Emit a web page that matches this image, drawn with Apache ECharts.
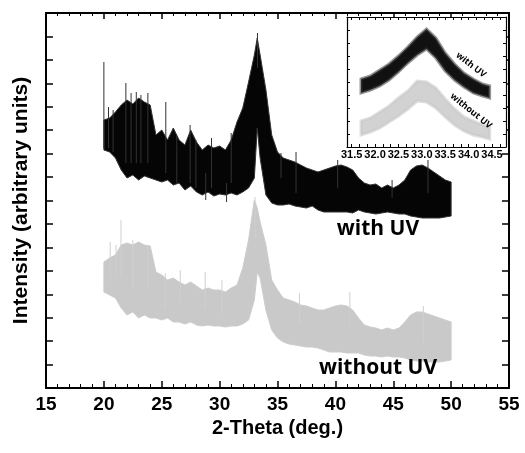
<!DOCTYPE html>
<html><head><meta charset="utf-8">
<script src="https://cdn.jsdelivr.net/npm/echarts@6/dist/echarts.min.js"></script>
<style>html,body{margin:0;padding:0;background:#fff}#c{width:525px;height:453px}</style>
</head><body><div id="c"></div>
<script>
// ---- main plot data (2-Theta in degrees, intensity in arbitrary units; band = low/high envelope of the noisy trace)
const mainX = [20,20.5,21,21.5,22,22.5,23,23.5,24,24.5,25,25.5,26,26.5,27,27.5,28,28.5,29,29.5,30,30.5,31,31.5,32,32.5,33,33.25,33.5,34,34.5,35,35.5,36,36.5,37,37.5,38,38.5,39,39.5,40,40.5,41,41.5,42,42.5,43,43.5,44,44.5,45,45.5,46,46.5,47,47.5,48,48.5,49,49.5,50];
const withUVHigh = [268,270,276,283,288,284,290,286,283,253,258,248,260,248,243,258,246,238,243,240,242,238,248,266,280,306,333,350,333,298,253,236,230,228,226,223,220,218,216,218,220,222,223,221,218,210,205,203,204,200,203,200,203,208,218,222,223,220,216,212,208,206];
const withUVLow  = [238,236,230,218,210,213,208,212,210,208,206,208,203,205,198,202,196,193,196,192,194,193,195,193,196,200,210,260,230,193,185,183,183,184,182,181,180,182,178,176,176,176,176,176,175,178,176,175,174,175,176,175,174,174,172,171,170,170,170,170,171,172];
const withoutUVHigh = [126,130,133,143,145,143,146,143,142,116,113,108,110,106,103,106,102,98,100,98,98,96,100,103,120,148,188,180,166,143,108,98,90,88,86,83,82,80,78,78,80,82,83,82,78,70,63,61,60,58,60,58,60,66,73,76,76,74,72,70,68,66];
const withoutUVLow  = [96,93,90,80,73,76,70,73,70,70,68,70,66,66,64,66,63,62,63,62,62,61,62,62,64,68,88,116,110,78,58,50,46,44,43,42,41,41,40,38,36,36,36,35,35,35,33,32,32,31,32,31,31,30,28,27,27,26,26,26,27,28];
// isolated noise spikes [2-Theta, from, to]
const withUVSpikes = [[20.0,240,326],[20.4,240,281],[20.8,236,278],[21.9,225,305],[22.35,225,295],[22.8,225,296],[23.2,225,293],[23.8,225,295],[25.35,215,286],[27.45,205,263],[27.95,200,248],[33.27,320,355],[35.3,210,235],[44.9,190,208],[28.8,188,215],[30.6,186,205],[26.3,205,252],[29.3,200,250],[31.0,205,255],[36.6,195,236],[40.2,200,228],[48.0,195,228]];
const withoutUVSpikes = [[20.55,110,146],[21.05,110,143],[21.48,110,168],[22.5,100,148],[23.8,100,143],[26.6,85,118],[28.75,80,116],[33.05,150,191],[36.9,65,95],[41.25,60,96],[25.3,80,115],[30.2,75,108],[47.6,45,82]];
// ---- inset data
const insetX = [31.7,31.9,32.1,32.3,32.5,32.7,32.9,33.1,33.3,33.5,33.7,33.9,34.1,34.3,34.45];
const insetWithHigh = [68,71,77,83,91,100,110,118,109,94,83,74,68,63,61];
const insetWithLow  = [54,57,61,67,75,84,92,98,89,76,67,60,54,51,49];
const insetWithoutHigh = [26,29,35,41,49,56,66,65,59,48,38,30,26,22,20];
const insetWithoutLow  = [12,15,19,25,31,38,46,45,39,30,22,16,12,10,8];
const mainTicksX = [15,20,25,30,35,40,45,50,55];
const insetLabels = [31.5,32.0,32.5,33.0,33.5,34.0,34.5];

function bandSeries(xi, yi, xs, lo, hi, color, stroke, lw, z){
  return {type:'custom', xAxisIndex:xi, yAxisIndex:yi, clip:true, silent:true, z:z||2,
    data: xs.map(function(x,i){ return [x, lo[i], hi[i]]; }), encode:{x:0, y:[1,2]},
    renderItem:function(p, api){
      if (p.dataIndex !== 0) return null;
      const top = [], bot = [];
      for (let i=0;i<xs.length;i++){ top.push(api.coord([xs[i], hi[i]])); bot.push(api.coord([xs[i], lo[i]])); }
      const pts = top.concat(bot.reverse());
      return {type:'polygon', shape:{points:pts}, style:{fill:color, stroke:stroke, lineWidth:lw, lineJoin:'miter'}};
    }};
}
function spikeSeries(xi, yi, spikes, color){
  return {type:'custom', xAxisIndex:xi, yAxisIndex:yi, clip:true, silent:true, z:3,
    data: spikes, encode:{x:0, y:[1,2]},
    renderItem:function(p, api){
      const a=api.coord([api.value(0),api.value(1)]), b=api.coord([api.value(0),api.value(2)]);
      return {type:'line', shape:{x1:a[0],y1:a[1],x2:b[0],y2:b[1]}, style:{stroke:color, lineWidth:1}};
    }};
}
const insetTickVals = []; for (let k=0;k<20;k++) insetTickVals.push(31.5 + k*0.5/3);
const F = 'Liberation Sans, Arial, sans-serif';
const line2 = {show:true, onZero:false, lineStyle:{color:'#000', width:2}};
const line1 = {show:true, onZero:false, lineStyle:{color:'#000', width:1.2}};

const chart = echarts.init(document.getElementById('c'), null, {renderer:'canvas'});
chart.setOption({
  animation:false,
  backgroundColor:'#fff',
  grid:[
    {left:46, right:16, top:13, bottom:65},
    {left:347, top:17, width:159, height:130, show:true, backgroundColor:'#fff', borderWidth:0, z:5}
  ],
  xAxis:[
    {type:'value', gridIndex:0, position:'bottom', min:15, max:55, interval:5, axisLine:line2,
     axisTick:{show:true, inside:true, length:7, lineStyle:{color:'#000', width:1.5}},
     minorTick:{show:true, splitNumber:5, length:4, lineStyle:{color:'#000', width:1}},
     splitLine:{show:false},
     axisLabel:{color:'#000', fontFamily:F, fontWeight:'bold', fontSize:19, margin:7,
       formatter:function(v){ return mainTicksX.indexOf(v)>=0 ? String(v) : ''; }},
     name:'2-Theta (deg.)', nameLocation:'middle', nameGap:28,
     nameTextStyle:{color:'#000', fontFamily:F, fontWeight:'bold', fontSize:20}},
    {type:'value', gridIndex:0, position:'top', min:15, max:55, interval:5, axisLine:line2,
     axisTick:{show:true, inside:true, length:6, lineStyle:{color:'#000', width:1.5}},
     minorTick:{show:true, splitNumber:5, length:3, lineStyle:{color:'#000', width:1}},
     splitLine:{show:false}, axisLabel:{show:false}},
    {type:'value', gridIndex:1, position:'bottom', min:31.4, max:34.8, axisLine:line1, z:6,
     axisTick:{show:true, inside:true, length:3, customValues:insetTickVals, lineStyle:{color:'#000', width:1}},
     splitLine:{show:false},
     axisLabel:{customValues:insetLabels, color:'#000', fontFamily:F, fontWeight:'bold', fontSize:11, margin:2,
       formatter:function(v){ return v.toFixed(1); }}},
    {type:'value', gridIndex:1, position:'top', min:31.4, max:34.8, axisLine:line1, z:6,
     axisTick:{show:true, inside:true, length:3, customValues:insetTickVals, lineStyle:{color:'#000', width:1}},
     splitLine:{show:false}, axisLabel:{show:false}}
  ],
  yAxis:[
    {type:'value', gridIndex:0, position:'left', min:0, max:375, interval:23.4375, axisLine:line2,
     axisTick:{show:true, inside:true, length:7, lineStyle:{color:'#000', width:1.5}},
     splitLine:{show:false}, axisLabel:{show:false},
     name:'Intensity (arbitrary units)', nameLocation:'middle', nameGap:14,
     nameTextStyle:{color:'#000', fontFamily:F, fontWeight:'bold', fontSize:21}},
    {type:'value', gridIndex:0, position:'right', min:0, max:375, interval:23.4375, axisLine:line2,
     axisTick:{show:true, inside:true, length:7, lineStyle:{color:'#000', width:1.5}},
     splitLine:{show:false}, axisLabel:{show:false}},
    {type:'value', gridIndex:1, position:'left', min:0, max:130, interval:13, axisLine:line1, z:6,
     axisTick:{show:true, inside:true, length:3, lineStyle:{color:'#000', width:1}},
     splitLine:{show:false}, axisLabel:{show:false}},
    {type:'value', gridIndex:1, position:'right', min:0, max:130, interval:13, axisLine:line1, z:6,
     axisTick:{show:true, inside:true, length:3, lineStyle:{color:'#000', width:1}},
     splitLine:{show:false}, axisLabel:{show:false}}
  ],
  series:[
    bandSeries(0,0, mainX, withoutUVLow, withoutUVHigh, '#c9c9c9', '#cdcdcd', 1),
    spikeSeries(0,0, withoutUVSpikes, '#cfcfcf'),
    bandSeries(0,0, mainX, withUVLow, withUVHigh, '#050505', '#333', 1),
    spikeSeries(0,0, withUVSpikes, '#333'),
    bandSeries(2,2, insetX, insetWithoutLow, insetWithoutHigh, '#d2d2d2', 'rgba(200,200,200,0.6)', 3, 7),
    bandSeries(2,2, insetX, insetWithLow, insetWithHigh, '#111', 'rgba(60,60,60,0.55)', 3, 7)
  ],
  graphic:[
    {type:'text', x:378, y:229, z:10, style:{text:'with UV', fill:'#000', font:'bold 21px "Open Sans", sans-serif', align:'center', verticalAlign:'middle'}},
    {type:'text', x:378, y:368, z:10, style:{text:'without UV', fill:'#000', font:'bold 21px "Open Sans", sans-serif', align:'center', verticalAlign:'middle'}},
    {type:'text', x:471, y:65, z:10, rotation:-0.66, style:{text:'with UV', fill:'#000', font:'bold 9px "Open Sans", sans-serif', align:'center', verticalAlign:'middle'}},
    {type:'text', x:471, y:111, z:10, rotation:-0.68, style:{text:'without UV', fill:'#000', font:'bold 9px "Open Sans", sans-serif', align:'center', verticalAlign:'middle'}}
  ]
});
</script></body></html>
